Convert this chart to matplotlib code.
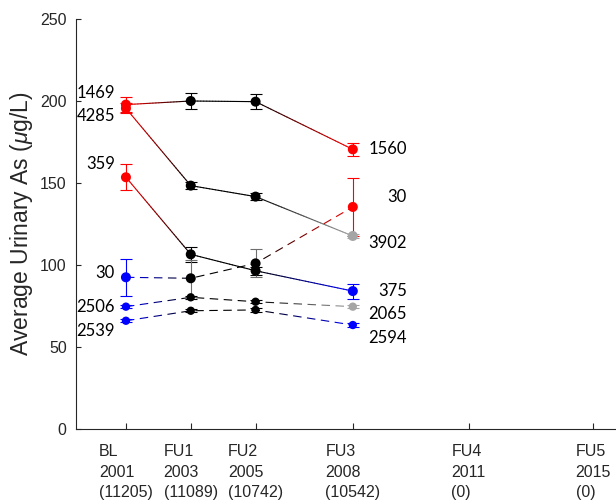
import numpy as np
import matplotlib.pyplot as plt
from matplotlib.collections import LineCollection
from matplotlib.colors import to_rgb

# visits on the x axis
visits = ['BL', 'FU1', 'FU2', 'FU3', 'FU4', 'FU5']
visit_years = ['2001', '2003', '2005', '2008', '2011', '2015']
visit_n = ['(11205)', '(11089)', '(10742)', '(10542)', '(0)', '(0)']
visit_x = [2001.0, 2003.0, 2005.0, 2008.0, 2011.57, 2015.42]

# six groups, measured at BL, FU1, FU2, FU3
mean_a = [197.8, 200.0, 199.6, 170.5]
err_a = [4.5, 4.8, 4.5, 4.0]
col_a = ['red', 'black', 'black', 'red']
lab_a = ('1469', '1560')

mean_b = [195.5, 148.4, 141.7, 117.7]
err_b = [3.0, 2.0, 2.0, 1.0]
col_b = ['red', 'black', 'black', '#a5a5a5']
lab_b = ('4285', '3902')

mean_c = [153.5, 106.5, 96.5, 84.1]
err_c = [7.8, 4.6, 2.5, 4.6]
col_c = ['red', 'black', 'black', 'blue']
lab_c = ('359', '375')

mean_d = [92.5, 91.9, 101.0, 135.4]
err_d = [11.4, 11.4, 8.6, 17.8]
col_d = ['blue', 'black', 'black', 'red']
ecol_d = ['blue', '#6e6e6e', '#6e6e6e', 'red']
lab_d = ('30', '30')

mean_e = [74.6, 80.3, 77.6, 74.6]
err_e = [1.0, 1.0, 1.0, 1.0]
col_e = ['blue', 'black', 'black', '#a5a5a5']
lab_e = ('2506', '2065')

mean_f = [66.0, 72.1, 72.6, 63.4]
err_f = [1.0, 1.0, 1.0, 1.0]
col_f = ['blue', 'black', 'black', 'blue']
lab_f = ('2539', '2594')

plt.rcParams['font.family'] = ['Liberation Sans', 'DejaVu Sans']
plt.rcParams['mathtext.fontset'] = 'custom'
plt.rcParams['mathtext.it'] = 'Liberation Sans:italic'
plt.rcParams['mathtext.rm'] = 'Liberation Sans'

AXC = '#262626'


def gradient_line(ax, xs, ys, colors, dashed, lw=0.8):
    """Polyline whose colour runs from one marker colour to the next."""
    pix = ax.transData.transform(np.column_stack([xs, ys]))
    rgb = np.array([to_rgb(c) for c in colors])
    pts, cls, arc = [], [], []
    s0 = 0.0
    for i in range(len(pix) - 1):
        p, q = pix[i], pix[i + 1]
        length = np.hypot(*(q - p))
        t = np.arange(0, length, 0.5) / length
        pts.append(p + t[:, None] * (q - p))
        cls.append(rgb[i] + t[:, None] * (rgb[i + 1] - rgb[i]))
        arc.append(s0 + t * length)
        s0 += length
    pts.append(pix[-1:])
    cls.append(rgb[-1:])
    arc.append([s0])
    pts, cls, arc = np.vstack(pts), np.vstack(cls), np.concatenate(arc)

    segs, segc = [], []
    if dashed:
        on, off = 9.0, 5.0
        mask = (arc % (on + off)) < on
        j = 0
        while j < len(mask):
            if mask[j]:
                k = j
                while k < len(mask) and mask[k]:
                    k += 1
                if k - j > 1:
                    segs.append(pts[j:k])
                    segc.append(cls[j:k].mean(axis=0))
                j = k
            else:
                j += 1
    else:
        step = 6
        for j in range(0, len(pts) - 1, step):
            segs.append(pts[j:j + step + 1])
            segc.append(cls[j:j + step + 1].mean(axis=0))

    inv = ax.transData.inverted()
    segs = [inv.transform(s) for s in segs]
    lc = LineCollection(segs, colors=segc, linewidths=lw,
                        capstyle='round' if not dashed else 'butt', zorder=2)
    ax.add_collection(lc)


fig = plt.figure(figsize=(6.16, 5), dpi=100)
ax = fig.add_axes([75.7 / 616, 71 / 500, 1 - 75.7 / 616, 410 / 500])
ax.set_xlim(1999.45, 2016.12)
ax.set_ylim(0, 250)

groups = [
    (mean_a, err_a, col_a, col_a, lab_a, False, 52, (12, 0)),
    (mean_b, err_b, col_b, col_b, lab_b, False, 52, (-8, -7)),
    (mean_c, err_c, col_c, col_c, lab_c, False, 52, (13, 0)),
    (mean_d, err_d, col_d, ecol_d, lab_d, True, 52, (4, 10)),
    (mean_e, err_e, col_e, col_e, lab_e, True, 36, (0, -7)),
    (mean_f, err_f, col_f, col_f, lab_f, True, 36, (-10, -13)),
]

xs = visit_x[:4]
for means, errs, cols, ecols, labs, dashed, size, offs in groups:
    gradient_line(ax, xs, means, cols, dashed)
    for x, m, e, ec in zip(xs, means, errs, ecols):
        ax.errorbar(x, m, yerr=e, fmt='none', ecolor=ec, elinewidth=0.8,
                    capsize=4, capthick=0.8, zorder=3)
    ax.scatter(xs, means, s=size, c=cols, zorder=4, linewidths=0)
    ax.annotate(labs[0], (xs[0], means[0]), xytext=(-11, offs[0]),
                textcoords='offset pixels', ha='right', va='center',
                fontsize=12, family='Lato')
    ax.annotate(labs[1], (xs[3], means[3]), xytext=(54, offs[1]),
                textcoords='offset pixels', ha='right', va='center',
                fontsize=12, family='Lato')

ax.set_xticks(visit_x)
ax.set_xticklabels([f'{v}\n{y}\n{n}' for v, y, n in zip(visits, visit_years, visit_n)],
                   multialignment='left', linespacing=1.45)
ax.set_yticks([0, 50, 100, 150, 200, 250])

for side in ['top', 'right']:
    ax.spines[side].set_visible(False)
for side in ['left', 'bottom']:
    ax.spines[side].set_color(AXC)
    ax.spines[side].set_linewidth(0.8)
ax.tick_params(axis='x', direction='in', length=4.3, width=0.8, color=AXC,
               labelcolor=AXC, labelsize=11.5, pad=11)
ax.tick_params(axis='y', direction='in', length=3.5, width=0.8, color=AXC,
               labelcolor=AXC, labelsize=11.5, pad=6.5)

fig.text(22 / 616, 71 / 500 + 205 / 500, 'Average Urinary As ($\\mu$g/L)',
         rotation=90, ha='center', va='center', fontsize=16.5, color=AXC)

fig.savefig('out.png', dpi=100)
